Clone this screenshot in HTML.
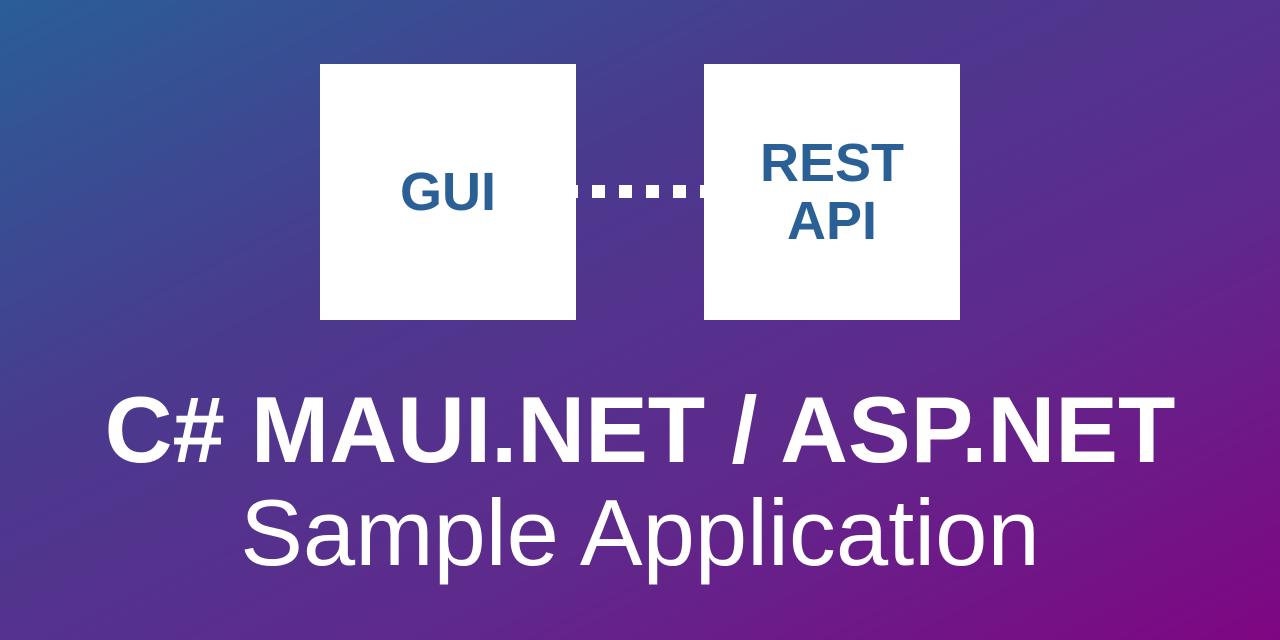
<!DOCTYPE html>
<html><head><style>
body{margin:0;width:1280px;height:640px;overflow:hidden;background:linear-gradient(153deg,#2a5e98 0%,#4a3a8e 35%,#5e2a8c 65%,#7f0682 100%);font-family:"Liberation Sans",sans-serif;position:relative}
.box{position:absolute;background:#fff;width:256px;height:256px;top:64px;display:flex;align-items:center;justify-content:center;color:#2b6096;font-weight:bold;font-size:54px;line-height:58px;text-align:center}
.d{position:absolute;background:#fff;top:185px;height:13px;width:13px}
.t{position:absolute;left:0;width:1280px;text-align:center;color:#fff;white-space:nowrap}
</style></head><body>
<div class="box" style="left:320px">GUI</div>
<div class="box" style="left:704px">REST<br>API</div>
<div class="d" style="left:576px;width:2px"></div>
<div class="d" style="left:592px"></div>
<div class="d" style="left:619px"></div>
<div class="d" style="left:646px"></div>
<div class="d" style="left:673px"></div>
<div class="d" style="left:700px;width:4px"></div>
<div class="t" style="top:380px;font-size:94px;font-weight:bold;line-height:100px">C# MAUI.NET / ASP.NET</div>
<div class="t" style="top:483px;font-size:94px;line-height:100px">Sample Application</div>
</body></html>
